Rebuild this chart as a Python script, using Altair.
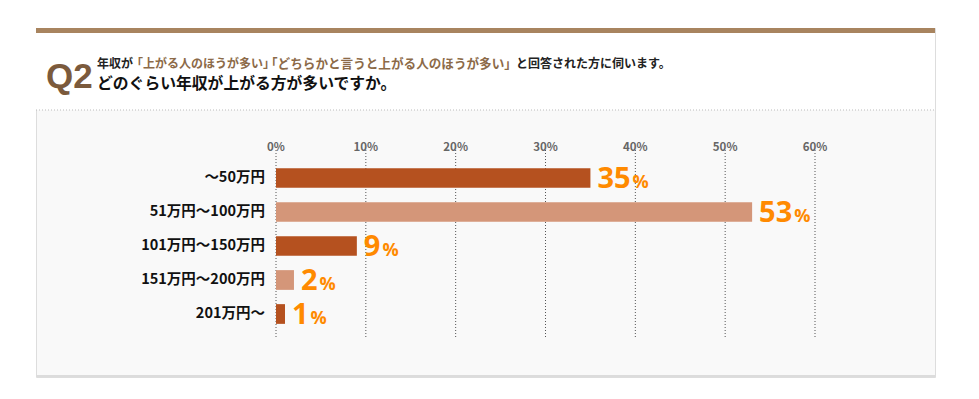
import altair as alt
import pandas as pd

categories = ["～50万円", "51万円～100万円", "101万円～150万円", "151万円～200万円", "201万円～"]
values = [35, 53, 9, 2, 1]
ticks = [0, 10, 20, 30, 40, 50, 60]

W, H = 899, 349
PX_PER_PCT = (815 - 276) / 60.0
NUM_SIZE = 29
DIGIT_W = 0.572 * NUM_SIZE
JP = "Noto Sans CJK JP"
NUMFONT = "Open Sans"

df = pd.DataFrame({"cat": categories, "value": values})
tick_df = pd.DataFrame({"t": ticks, "lab": [f"{t}%" for t in ticks]})

xs = alt.Scale(domain=[0, 60], range=[240, 779])
ys = alt.Scale(domain=categories, range=[133, 303], paddingInner=0.42, paddingOuter=0.21)

base = alt.Chart(df)

# decorations
one = alt.Chart(pd.DataFrame({"k": [0]}))
header_bg = one.mark_rect(color="white").encode(
    x=alt.value(0), x2=alt.value(W), y=alt.value(0), y2=alt.value(82))
top_bar = one.mark_rect(color="#a8845f").encode(
    x=alt.value(0), x2=alt.value(W), y=alt.value(0), y2=alt.value(5))
sep = one.mark_rule(color="#bbbbbb", strokeDash=[1, 2], strokeWidth=1).encode(
    x=alt.value(0), x2=alt.value(W), y=alt.value(82))
bottom = one.mark_rule(color="#dcdcdc", strokeWidth=2).encode(
    x=alt.value(0), x2=alt.value(W), y=alt.value(348))

q2 = one.mark_text(text="Q2", font="Liberation Sans", fontWeight="bold", fontSize=35,
                   color="#7b5a3c", align="left", baseline="alphabetic").encode(
    x=alt.value(10), y=alt.value(60))

def t1(txt, x, color, size=12):
    return one.mark_text(text=txt, font=JP, fontSize=size, fontWeight="bold", color=color,
                         align="left", baseline="alphabetic").encode(x=alt.value(x), y=alt.value(40))

l1a = t1("年収が", 61, "#222222")
l1b = t1("「上がる人のほうが多い」", 95, "#8c6a48")
l1c = t1("「どちらかと言うと上がる人のほうが多い」", 229, "#8c6a48", 12.6)
l1d = t1("と回答された方に伺います。", 480, "#222222")
l2 = one.mark_text(text="どのぐらい年収が上がる方が多いですか。", font=JP, fontSize=15.8, fontWeight="bold",
                   color="#111111", align="left", baseline="alphabetic").encode(x=alt.value(61), y=alt.value(61))

# grid + ticks
grid = alt.Chart(tick_df).mark_rule(color="#555555", strokeDash=[1, 2], strokeWidth=1).encode(
    x=alt.X("t:Q", scale=xs, axis=None), y=alt.value(122), y2=alt.value(309))
tick_lab = alt.Chart(tick_df).mark_text(font=JP, fontSize=11.5, fontWeight="bold", color="#666666",
                                        baseline="middle").encode(
    x=alt.X("t:Q", scale=xs, axis=None), y=alt.value(120), text="lab:N")

# bars
bars = base.transform_window(idx="row_number()").transform_calculate(
    shade="datum.idx % 2 == 1 ? 'a' : 'b'"
).mark_bar().encode(
    x=alt.X("value:Q", scale=xs, axis=None),
    x2=alt.datum(0),
    y=alt.Y("cat:N", scale=ys, axis=None, sort=categories),
    color=alt.Color("shade:N", scale=alt.Scale(domain=["a", "b"], range=["#b5511f", "#d49679"]), legend=None),
)

cat_lab = base.mark_text(font=JP, fontSize=14.5, fontWeight="bold", color="#111111",
                         align="right", baseline="middle").encode(
    x=alt.value(229), y=alt.Y("cat:N", scale=ys, axis=None, sort=categories), text="cat:N")

num = base.mark_text(font=NUMFONT, fontSize=NUM_SIZE, fontWeight="bold", color="#ff8a00",
                     align="left", baseline="alphabetic", dx=7, dy=10).encode(
    x=alt.X("value:Q", scale=xs, axis=None),
    y=alt.Y("cat:N", scale=ys, axis=None, sort=categories), text="value:Q")

pct = base.transform_calculate(
    px=f"datum.value + (length(toString(datum.value)) * {DIGIT_W} + 9) / {PX_PER_PCT}",
    p="'%'"
).mark_text(font=NUMFONT, fontSize=18, fontWeight="bold", color="#ff8a00",
            align="left", baseline="alphabetic", dy=10).encode(
    x=alt.X("px:Q", scale=xs, axis=None),
    y=alt.Y("cat:N", scale=ys, axis=None, sort=categories), text="p:N")

chart = alt.layer(
    header_bg, top_bar, sep, bottom, q2, l1a, l1b, l1c, l1d, l2,
    grid, tick_lab, bars, cat_lab, num, pct
).properties(
    width=W, height=H,
    autosize=alt.AutoSizeParams(type="none"),
    padding={"left": 28, "top": 20, "right": 20, "bottom": 10},
    background="white",
).configure_view(
    fill="#f9f9f9", stroke="#dddddd", strokeWidth=1
)

chart.save("out.html", embed_options={"renderer": "svg", "actions": False})
